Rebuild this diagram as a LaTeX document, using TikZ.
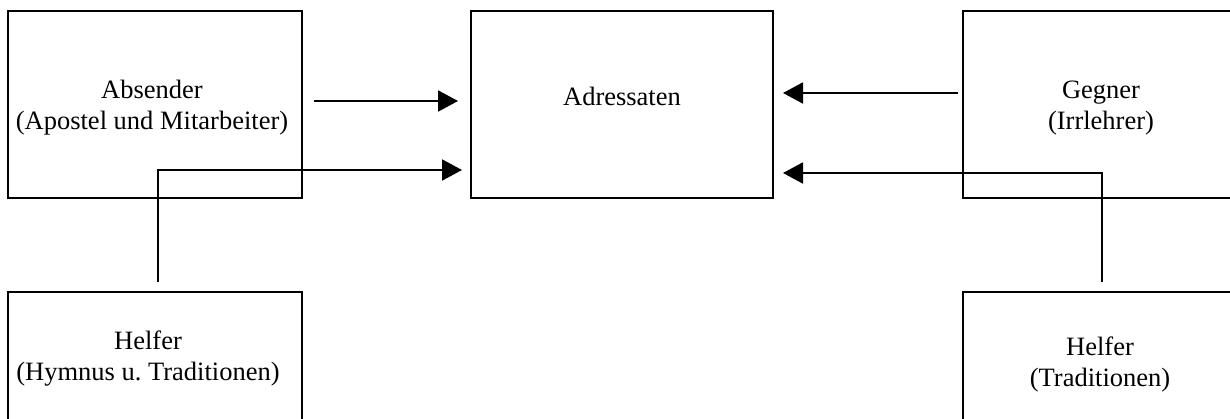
\documentclass[tikz,border=0pt]{standalone}
\usepackage{fontspec}
\setmainfont{Liberation Serif}
\usetikzlibrary{arrows.meta,calc}
\begin{document}
\begin{tikzpicture}[x=1pt,y=-1pt,
  box/.style={draw=black,line width=2.4pt,rectangle,inner sep=0pt,outer sep=0pt},
  lbl/.style={font=\fontsize{26.5}{30.5}\selectfont,align=center,anchor=base,inner sep=0pt},
  arr/.style={draw=black,line width=2pt,-{Triangle[length=20pt,width=21pt]}}]
\useasboundingbox (0,0) rectangle (1230,418);
\clip (0,0) rectangle (1230,418);
\fill[white] (0,0) rectangle (1230,418);
% boxes
\node[box,minimum width=294pt,minimum height=187pt] (abs) at (155,104.5) {};
\node[box,minimum width=302pt,minimum height=187pt] (adr) at (622,104.5) {};
\node[box,minimum width=274pt,minimum height=187pt] (geg) at (1100,104.5) {};
\node[box,minimum width=294pt,minimum height=188pt] (hl) at (155,386) {};
\node[box,minimum width=274pt,minimum height=188pt] (hr) at (1100,386) {};
% texts (base anchor = baseline of last line)
\node[lbl] (tabs) at (152,129) {Absender\\(Apostel und Mitarbeiter)};
\node[lbl] (tadr) at (622,105) {Adressaten};
\node[lbl] (tgeg) at (1101,129) {Gegner\\(Irrlehrer)};
\node[lbl] (thl) at (148,380) {Helfer\\(Hymnus u.\ Traditionen)};
\node[lbl] (thr) at (1100,386) {Helfer\\(Traditionen)};
% connectors
\coordinate (a1s) at (314,101);
\coordinate (k2) at (158,170);
\coordinate (a3s) at (958,93);
\coordinate (k4) at (1102,173);
\draw[arr,shorten >=13pt] (a1s) -- (adr.west |- a1s);
\draw[arr,shorten <=10pt,shorten >=9pt] (hl.north -| k2) -- (k2) -- (adr.west |- k2);
\draw[arr,shorten >=10pt] (a3s) -- (adr.east |- a3s);
\draw[arr,shorten <=10pt,shorten >=10pt] (hr.north -| k4) -- (k4) -- (adr.east |- k4);
\end{tikzpicture}
\end{document}
